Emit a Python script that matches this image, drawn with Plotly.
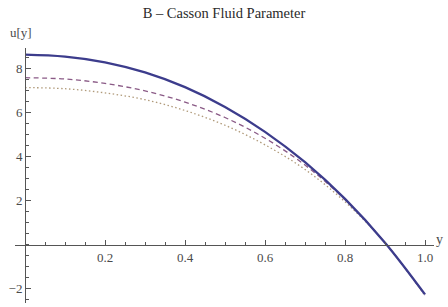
import plotly.graph_objects as go

y_pos = [0.0, 0.1, 0.2, 0.3, 0.4, 0.5, 0.6, 0.7, 0.8, 0.9, 1.0]
u_solid = [8.65, 8.56, 8.3, 7.84, 7.17, 6.27, 5.14, 3.76, 2.09, 0.1, -2.25]
u_dashed = [7.6, 7.54, 7.34, 7.0, 6.49, 5.79, 4.85, 3.63, 2.06, 0.1, -2.28]
u_dotted = [7.15, 7.1, 6.91, 6.6, 6.11, 5.44, 4.55, 3.43, 1.96, 0.1, -2.3]

x_ticks = [0.2, 0.4, 0.6, 0.8, 1.0]
x_ticktext = ["0.2", "0.4", "0.6", "0.8", "1.0"]
y_ticks = [-2, 2, 4, 6, 8]
y_ticktext = ["\u22122", "2", "4", "6", "8"]

xr = [-0.025, 1.0225]
yr = [-2.64, 8.95]

fig = go.Figure()
fig.add_trace(go.Scatter(x=y_pos, y=u_dotted, mode="lines", hoverinfo="skip", line=dict(color="#b09a7a", width=1.3, dash="1.5px,2.5px", shape="spline")))
fig.add_trace(go.Scatter(x=y_pos, y=u_dashed, mode="lines", hoverinfo="skip", line=dict(color="#8a5a86", width=1.3, dash="5px,3.5px", shape="spline")))
fig.add_trace(go.Scatter(x=y_pos, y=u_solid, mode="lines", hoverinfo="skip", line=dict(color="#3c3c8c", width=2.3, shape="spline")))

serif = "Liberation Serif"
font = dict(family=serif, size=13, color="#4a4a4a")
minor_x = dict(tickmode="linear", dtick=0.05, tick0=0, ticks="inside", ticklen=2.5, tickcolor="#555")
minor_y = dict(tickmode="linear", dtick=0.5, tick0=0, ticks="inside", ticklen=2.5, tickcolor="#555")
fig.update_layout(
    width=448, height=307,
    margin=dict(l=15, r=14, t=48, b=4, autoexpand=False),
    paper_bgcolor="white", plot_bgcolor="white",
    showlegend=False,
    title=dict(text="B \u2013 Casson Fluid Parameter", x=0.5, xanchor="center", y=0.957, yanchor="middle",
               font=dict(family=serif, size=14.5, color="#2a2a2a")),
    font=font,
    xaxis=dict(range=xr, anchor="free", position=(0 - yr[0]) / (yr[1] - yr[0]), automargin=False,
               showgrid=False, zeroline=False, showline=True, linecolor="#555", linewidth=1,
               tickmode="array", tickvals=x_ticks, ticktext=x_ticktext,
               ticks="inside", ticklen=5, tickcolor="#555", tickfont=font, minor=minor_x),
    yaxis=dict(range=yr, anchor="free", position=(0 - xr[0]) / (xr[1] - xr[0]), automargin=False,
               showgrid=False, zeroline=False, showline=True, linecolor="#555", linewidth=1,
               tickmode="array", tickvals=y_ticks, ticktext=y_ticktext,
               ticks="inside", ticklen=5, tickcolor="#555", tickfont=font, minor=minor_y),
    annotations=[
        dict(text="u[y]", xref="paper", yref="paper", x=0.015, y=1.059, xanchor="center", yanchor="middle",
             showarrow=False, font=dict(family=serif, size=13, color="#4a4a4a")),
        dict(text="y", xref="paper", yref="paper", x=1.0143, y=0.25,
             xanchor="center", yanchor="middle", showarrow=False,
             font=dict(family=serif, size=14, color="#4a4a4a")),
    ],
)
fig.write_html("out.html", config={"displayModeBar": False},
               post_script="document.body.style.margin='0';document.body.style.padding='0';")
